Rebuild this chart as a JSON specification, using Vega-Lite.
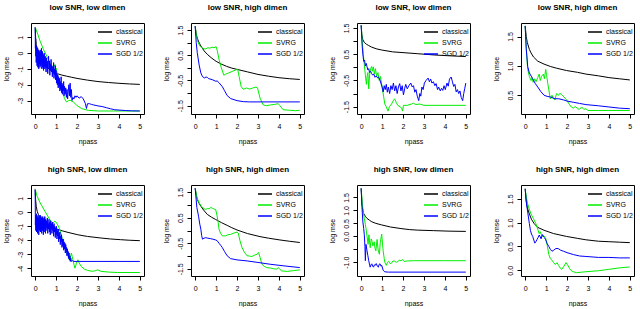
{
"$schema": "https://vega.github.io/schema/vega-lite/v6.json",
"padding": {"left": 1, "top": 3, "right": 0, "bottom": 0},
"background": "white",
"config": {
 "font": "Liberation Sans",
 "view": {"stroke": "#000000", "strokeWidth": 1},
 "axis": {"domain": false, "grid": false, "tickSize": 4, "tickColor": "#000", "tickWidth": 1, "labelFontSize": 7, "labelColor": "#000", "titleFontSize": 7, "titleFontWeight": "normal", "titleColor": "#000", "labelPadding": 4, "labelFlush": false, "labelOverlap": false},
 "axisX": {"titlePadding": 8},
 "axisY": {"labelAngle": 270, "labelAlign": "center", "labelBaseline": "bottom", "titlePadding": 7},
 "title": {"fontSize": 8, "fontWeight": "bold", "offset": 11, "frame": "group", "color": "#000"},
 "legend": {"orient": "top-right", "offset": 1, "labelFontSize": 7, "labelColor": "#000", "symbolType": "stroke", "symbolSize": 196, "symbolStrokeWidth": 1.5, "rowPadding": -2.5, "labelOffset": 3, "padding": 0}
},
"spacing": 20,
"resolve": {"scale": {"color": "independent"}, "legend": {"color": "independent"}},
"datasets": {
"p1": [
{"m":"classical","x":0,"y":1.65},{"m":"classical","x":0.02,"y":1.0},{"m":"classical","x":0.05,"y":0.55},{"m":"classical","x":0.1,"y":0.15},{"m":"classical","x":0.2,"y":-0.25},{"m":"classical","x":0.3,"y":-0.5},{"m":"classical","x":0.4,"y":-0.68},{"m":"classical","x":0.5,"y":-0.82},{"m":"classical","x":0.6,"y":-0.94},{"m":"classical","x":0.7,"y":-1.04},{"m":"classical","x":0.8,"y":-1.13},{"m":"classical","x":0.9,"y":-1.21},{"m":"classical","x":1.0,"y":-1.28},{"m":"classical","x":1.25,"y":-1.38},{"m":"classical","x":1.5,"y":-1.46},{"m":"classical","x":1.75,"y":-1.53},{"m":"classical","x":2.0,"y":-1.6},{"m":"classical","x":2.5,"y":-1.71},{"m":"classical","x":3.0,"y":-1.8},{"m":"classical","x":3.5,"y":-1.86},{"m":"classical","x":4.0,"y":-1.91},{"m":"classical","x":4.5,"y":-1.95},{"m":"classical","x":5.0,"y":-1.98},
{"m":"SVRG","x":0,"y":1.64},{"m":"SVRG","x":0.13,"y":1.17},{"m":"SVRG","x":0.24,"y":0.74},{"m":"SVRG","x":0.4,"y":0.21},{"m":"SVRG","x":0.56,"y":-0.21},{"m":"SVRG","x":0.71,"y":-0.64},{"m":"SVRG","x":0.87,"y":-0.96},{"m":"SVRG","x":0.9,"y":-0.85},{"m":"SVRG","x":0.95,"y":-0.72},{"m":"SVRG","x":0.98,"y":-1.0},{"m":"SVRG","x":1.0,"y":-0.95},{"m":"SVRG","x":1.03,"y":-1.15},{"m":"SVRG","x":1.1,"y":-1.6},{"m":"SVRG","x":1.27,"y":-2.23},{"m":"SVRG","x":1.4,"y":-2.87},{"m":"SVRG","x":1.5,"y":-3.09},{"m":"SVRG","x":1.6,"y":-3.0},{"m":"SVRG","x":1.67,"y":-2.98},{"m":"SVRG","x":1.75,"y":-3.05},{"m":"SVRG","x":1.83,"y":-3.09},{"m":"SVRG","x":1.98,"y":-3.3},{"m":"SVRG","x":2.22,"y":-3.51},{"m":"SVRG","x":2.54,"y":-3.62},{"m":"SVRG","x":3.02,"y":-3.66},{"m":"SVRG","x":4.0,"y":-3.66},{"m":"SVRG","x":5.0,"y":-3.66},
{"m":"SGD 1/2","x":0,"y":1.6},{"m":"SGD 1/2","x":0.01,"y":0.3},{"m":"SGD 1/2","x":0.02,"y":0.9},{"m":"SGD 1/2","x":0.03,"y":-0.2},{"m":"SGD 1/2","x":0.04,"y":0.5},{"m":"SGD 1/2","x":0.05,"y":-0.6},{"m":"SGD 1/2","x":0.06,"y":0.2},{"m":"SGD 1/2","x":0.07,"y":-0.3},{"m":"SGD 1/2","x":0.08,"y":0.4},{"m":"SGD 1/2","x":0.09,"y":-0.8},{"m":"SGD 1/2","x":0.10,"y":0.1},{"m":"SGD 1/2","x":0.11,"y":-0.4},{"m":"SGD 1/2","x":0.12,"y":0.3},{"m":"SGD 1/2","x":0.13,"y":-0.9},{"m":"SGD 1/2","x":0.14,"y":0.0},{"m":"SGD 1/2","x":0.15,"y":-0.5},{"m":"SGD 1/2","x":0.16,"y":0.2},{"m":"SGD 1/2","x":0.17,"y":-1.0},{"m":"SGD 1/2","x":0.18,"y":-0.1},{"m":"SGD 1/2","x":0.19,"y":-0.6},{"m":"SGD 1/2","x":0.20,"y":0.1},{"m":"SGD 1/2","x":0.21,"y":-0.7},{"m":"SGD 1/2","x":0.22,"y":-0.2},{"m":"SGD 1/2","x":0.23,"y":-0.9},{"m":"SGD 1/2","x":0.24,"y":0.2},{"m":"SGD 1/2","x":0.25,"y":-0.5},{"m":"SGD 1/2","x":0.26,"y":-0.1},{"m":"SGD 1/2","x":0.27,"y":-0.8},{"m":"SGD 1/2","x":0.28,"y":0.0},{"m":"SGD 1/2","x":0.29,"y":-0.6},{"m":"SGD 1/2","x":0.30,"y":0.3},{"m":"SGD 1/2","x":0.31,"y":-0.4},{"m":"SGD 1/2","x":0.32,"y":-1.0},{"m":"SGD 1/2","x":0.33,"y":-0.2},{"m":"SGD 1/2","x":0.34,"y":-0.7},{"m":"SGD 1/2","x":0.35,"y":0.1},{"m":"SGD 1/2","x":0.36,"y":-0.9},{"m":"SGD 1/2","x":0.37,"y":-0.3},{"m":"SGD 1/2","x":0.38,"y":-0.6},{"m":"SGD 1/2","x":0.39,"y":-0.1},{"m":"SGD 1/2","x":0.40,"y":-1.1},{"m":"SGD 1/2","x":0.41,"y":-0.4},{"m":"SGD 1/2","x":0.42,"y":-0.8},{"m":"SGD 1/2","x":0.43,"y":0.0},{"m":"SGD 1/2","x":0.44,"y":-0.7},{"m":"SGD 1/2","x":0.45,"y":-0.3},{"m":"SGD 1/2","x":0.46,"y":-1.0},{"m":"SGD 1/2","x":0.47,"y":-0.5},{"m":"SGD 1/2","x":0.48,"y":-0.2},{"m":"SGD 1/2","x":0.49,"y":-0.9},{"m":"SGD 1/2","x":0.50,"y":-0.4},{"m":"SGD 1/2","x":0.52,"y":-1.2},{"m":"SGD 1/2","x":0.54,"y":-0.3},{"m":"SGD 1/2","x":0.56,"y":-0.9},{"m":"SGD 1/2","x":0.58,"y":-0.5},{"m":"SGD 1/2","x":0.60,"y":-1.3},{"m":"SGD 1/2","x":0.62,"y":-0.6},{"m":"SGD 1/2","x":0.64,"y":-0.2},{"m":"SGD 1/2","x":0.66,"y":-1.0},{"m":"SGD 1/2","x":0.68,"y":-0.5},{"m":"SGD 1/2","x":0.70,"y":-1.4},{"m":"SGD 1/2","x":0.72,"y":-0.7},{"m":"SGD 1/2","x":0.74,"y":-1.1},{"m":"SGD 1/2","x":0.76,"y":-0.4},{"m":"SGD 1/2","x":0.78,"y":-1.2},{"m":"SGD 1/2","x":0.80,"y":-0.8},{"m":"SGD 1/2","x":0.82,"y":-1.5},{"m":"SGD 1/2","x":0.84,"y":-0.9},{"m":"SGD 1/2","x":0.86,"y":-1.3},{"m":"SGD 1/2","x":0.88,"y":-0.6},{"m":"SGD 1/2","x":0.90,"y":-1.6},{"m":"SGD 1/2","x":0.92,"y":-1.0},{"m":"SGD 1/2","x":0.94,"y":-1.4},{"m":"SGD 1/2","x":0.96,"y":-0.8},{"m":"SGD 1/2","x":0.98,"y":-1.7},{"m":"SGD 1/2","x":1.00,"y":-1.1},{"m":"SGD 1/2","x":1.02,"y":-1.9},{"m":"SGD 1/2","x":1.04,"y":-1.3},{"m":"SGD 1/2","x":1.06,"y":-2.0},{"m":"SGD 1/2","x":1.08,"y":-1.4},{"m":"SGD 1/2","x":1.10,"y":-2.2},{"m":"SGD 1/2","x":1.12,"y":-1.5},{"m":"SGD 1/2","x":1.14,"y":-2.1},{"m":"SGD 1/2","x":1.16,"y":-1.6},{"m":"SGD 1/2","x":1.18,"y":-2.4},{"m":"SGD 1/2","x":1.20,"y":-1.8},{"m":"SGD 1/2","x":1.22,"y":-2.3},{"m":"SGD 1/2","x":1.24,"y":-1.5},{"m":"SGD 1/2","x":1.26,"y":-2.5},{"m":"SGD 1/2","x":1.28,"y":-1.9},{"m":"SGD 1/2","x":1.30,"y":-2.6},{"m":"SGD 1/2","x":1.32,"y":-2.0},{"m":"SGD 1/2","x":1.34,"y":-2.4},{"m":"SGD 1/2","x":1.36,"y":-1.8},{"m":"SGD 1/2","x":1.38,"y":-2.7},{"m":"SGD 1/2","x":1.40,"y":-2.1},{"m":"SGD 1/2","x":1.43,"y":-2.6},{"m":"SGD 1/2","x":1.46,"y":-2.2},{"m":"SGD 1/2","x":1.49,"y":-2.8},{"m":"SGD 1/2","x":1.52,"y":-2.3},{"m":"SGD 1/2","x":1.55,"y":-2.9},{"m":"SGD 1/2","x":1.58,"y":-2.4},{"m":"SGD 1/2","x":1.61,"y":-2.0},{"m":"SGD 1/2","x":1.64,"y":-2.7},{"m":"SGD 1/2","x":1.67,"y":-1.9},{"m":"SGD 1/2","x":1.70,"y":-2.8},{"m":"SGD 1/2","x":1.73,"y":-2.3},{"m":"SGD 1/2","x":1.76,"y":-3.0},{"m":"SGD 1/2","x":1.80,"y":-2.8},{"m":"SGD 1/2","x":1.85,"y":-2.9},{"m":"SGD 1/2","x":1.90,"y":-2.7},{"m":"SGD 1/2","x":1.95,"y":-2.8},{"m":"SGD 1/2","x":2.0,"y":-2.7},{"m":"SGD 1/2","x":2.1,"y":-2.85},{"m":"SGD 1/2","x":2.2,"y":-2.75},{"m":"SGD 1/2","x":2.3,"y":-2.9},{"m":"SGD 1/2","x":2.4,"y":-3.2},{"m":"SGD 1/2","x":2.45,"y":-3.5},{"m":"SGD 1/2","x":2.5,"y":-3.2},{"m":"SGD 1/2","x":2.6,"y":-3.2},{"m":"SGD 1/2","x":2.7,"y":-3.25},{"m":"SGD 1/2","x":2.8,"y":-3.28},{"m":"SGD 1/2","x":3.0,"y":-3.34},{"m":"SGD 1/2","x":3.2,"y":-3.38},{"m":"SGD 1/2","x":3.4,"y":-3.45},{"m":"SGD 1/2","x":3.6,"y":-3.52},{"m":"SGD 1/2","x":3.8,"y":-3.58},{"m":"SGD 1/2","x":4.0,"y":-3.6},{"m":"SGD 1/2","x":4.3,"y":-3.63},{"m":"SGD 1/2","x":4.6,"y":-3.65},{"m":"SGD 1/2","x":5.0,"y":-3.66}
],
"p2": [
{"m":"classical","x":0,"y":1.65},{"m":"classical","x":0.05,"y":1.35},{"m":"classical","x":0.1,"y":1.18},{"m":"classical","x":0.2,"y":0.97},{"m":"classical","x":0.3,"y":0.83},{"m":"classical","x":0.43,"y":0.67},{"m":"classical","x":0.6,"y":0.52},{"m":"classical","x":0.8,"y":0.38},{"m":"classical","x":1.0,"y":0.26},{"m":"classical","x":1.25,"y":0.15},{"m":"classical","x":1.5,"y":0.06},{"m":"classical","x":1.75,"y":-0.01},{"m":"classical","x":2.0,"y":-0.06},{"m":"classical","x":2.5,"y":-0.16},{"m":"classical","x":3.0,"y":-0.26},{"m":"classical","x":3.5,"y":-0.33},{"m":"classical","x":4.0,"y":-0.39},{"m":"classical","x":4.5,"y":-0.43},{"m":"classical","x":5.0,"y":-0.46},
{"m":"SVRG","x":0,"y":1.65},{"m":"SVRG","x":0.05,"y":1.3},{"m":"SVRG","x":0.1,"y":1.1},{"m":"SVRG","x":0.17,"y":0.95},{"m":"SVRG","x":0.24,"y":0.85},{"m":"SVRG","x":0.35,"y":0.78},{"m":"SVRG","x":0.43,"y":0.76},{"m":"SVRG","x":0.5,"y":0.75},{"m":"SVRG","x":0.6,"y":0.8},{"m":"SVRG","x":0.7,"y":0.78},{"m":"SVRG","x":0.8,"y":0.82},{"m":"SVRG","x":0.9,"y":0.8},{"m":"SVRG","x":1.0,"y":0.84},{"m":"SVRG","x":1.05,"y":0.7},{"m":"SVRG","x":1.15,"y":0.3},{"m":"SVRG","x":1.25,"y":0.0},{"m":"SVRG","x":1.37,"y":-0.29},{"m":"SVRG","x":1.45,"y":-0.25},{"m":"SVRG","x":1.6,"y":-0.2},{"m":"SVRG","x":1.8,"y":-0.13},{"m":"SVRG","x":1.95,"y":-0.08},{"m":"SVRG","x":2.03,"y":-0.05},{"m":"SVRG","x":2.1,"y":-0.35},{"m":"SVRG","x":2.2,"y":-0.75},{"m":"SVRG","x":2.3,"y":-0.85},{"m":"SVRG","x":2.45,"y":-0.8},{"m":"SVRG","x":2.6,"y":-0.84},{"m":"SVRG","x":2.75,"y":-0.8},{"m":"SVRG","x":2.9,"y":-0.76},{"m":"SVRG","x":2.98,"y":-0.8},{"m":"SVRG","x":3.1,"y":-1.2},{"m":"SVRG","x":3.25,"y":-1.47},{"m":"SVRG","x":3.4,"y":-1.5},{"m":"SVRG","x":3.6,"y":-1.47},{"m":"SVRG","x":3.8,"y":-1.45},{"m":"SVRG","x":3.97,"y":-1.42},{"m":"SVRG","x":4.05,"y":-1.5},{"m":"SVRG","x":4.2,"y":-1.66},{"m":"SVRG","x":4.5,"y":-1.68},{"m":"SVRG","x":4.8,"y":-1.7},{"m":"SVRG","x":5.0,"y":-1.68},
{"m":"SGD 1/2","x":0,"y":1.65},{"m":"SGD 1/2","x":0.05,"y":1.0},{"m":"SGD 1/2","x":0.1,"y":0.6},{"m":"SGD 1/2","x":0.19,"y":0.11},{"m":"SGD 1/2","x":0.27,"y":-0.2},{"m":"SGD 1/2","x":0.35,"y":-0.35},{"m":"SGD 1/2","x":0.45,"y":-0.4},{"m":"SGD 1/2","x":0.52,"y":-0.36},{"m":"SGD 1/2","x":0.58,"y":-0.38},{"m":"SGD 1/2","x":0.65,"y":-0.43},{"m":"SGD 1/2","x":0.75,"y":-0.45},{"m":"SGD 1/2","x":0.85,"y":-0.48},{"m":"SGD 1/2","x":0.98,"y":-0.53},{"m":"SGD 1/2","x":1.05,"y":-0.52},{"m":"SGD 1/2","x":1.15,"y":-0.6},{"m":"SGD 1/2","x":1.3,"y":-0.75},{"m":"SGD 1/2","x":1.4,"y":-0.9},{"m":"SGD 1/2","x":1.53,"y":-1.1},{"m":"SGD 1/2","x":1.7,"y":-1.22},{"m":"SGD 1/2","x":2.0,"y":-1.3},{"m":"SGD 1/2","x":2.3,"y":-1.34},{"m":"SGD 1/2","x":2.6,"y":-1.35},{"m":"SGD 1/2","x":5.0,"y":-1.35}
],
"p3": [
{"m":"classical","x":0,"y":1.6},{"m":"classical","x":0.03,"y":1.25},{"m":"classical","x":0.08,"y":1.05},{"m":"classical","x":0.15,"y":0.95},{"m":"classical","x":0.25,"y":0.88},{"m":"classical","x":0.36,"y":0.83},{"m":"classical","x":0.5,"y":0.77},{"m":"classical","x":0.75,"y":0.7},{"m":"classical","x":0.98,"y":0.66},{"m":"classical","x":1.5,"y":0.59},{"m":"classical","x":2.0,"y":0.56},{"m":"classical","x":2.68,"y":0.52},{"m":"classical","x":3.5,"y":0.47},{"m":"classical","x":4.2,"y":0.44},{"m":"classical","x":5.0,"y":0.41},
{"m":"SVRG","x":0,"y":1.6},{"m":"SVRG","x":0.05,"y":1.0},{"m":"SVRG","x":0.1,"y":0.5},{"m":"SVRG","x":0.15,"y":0.1},{"m":"SVRG","x":0.2,"y":-0.3},{"m":"SVRG","x":0.25,"y":-0.65},{"m":"SVRG","x":0.28,"y":-0.35},{"m":"SVRG","x":0.32,"y":-0.2},{"m":"SVRG","x":0.36,"y":-0.82},{"m":"SVRG","x":0.4,"y":-0.3},{"m":"SVRG","x":0.45,"y":-0.05},{"m":"SVRG","x":0.5,"y":0.03},{"m":"SVRG","x":0.54,"y":-0.15},{"m":"SVRG","x":0.58,"y":0.02},{"m":"SVRG","x":0.63,"y":-0.25},{"m":"SVRG","x":0.68,"y":-0.05},{"m":"SVRG","x":0.74,"y":-0.35},{"m":"SVRG","x":0.8,"y":-0.2},{"m":"SVRG","x":0.86,"y":-0.5},{"m":"SVRG","x":0.92,"y":-0.35},{"m":"SVRG","x":1.0,"y":-0.75},{"m":"SVRG","x":1.07,"y":-1.1},{"m":"SVRG","x":1.13,"y":-1.4},{"m":"SVRG","x":1.2,"y":-1.5},{"m":"SVRG","x":1.28,"y":-1.67},{"m":"SVRG","x":1.35,"y":-1.5},{"m":"SVRG","x":1.45,"y":-1.4},{"m":"SVRG","x":1.55,"y":-1.25},{"m":"SVRG","x":1.6,"y":-1.2},{"m":"SVRG","x":1.68,"y":-1.35},{"m":"SVRG","x":1.75,"y":-1.45},{"m":"SVRG","x":1.85,"y":-1.5},{"m":"SVRG","x":1.93,"y":-1.55},{"m":"SVRG","x":1.98,"y":-1.67},{"m":"SVRG","x":2.02,"y":-1.45},{"m":"SVRG","x":2.2,"y":-1.45},{"m":"SVRG","x":2.4,"y":-1.4},{"m":"SVRG","x":2.5,"y":-1.37},{"m":"SVRG","x":2.6,"y":-1.42},{"m":"SVRG","x":2.8,"y":-1.4},{"m":"SVRG","x":3.0,"y":-1.45},{"m":"SVRG","x":5.0,"y":-1.45},
{"m":"SGD 1/2","x":0,"y":1.6},{"m":"SGD 1/2","x":0.04,"y":0.9},{"m":"SGD 1/2","x":0.08,"y":0.5},{"m":"SGD 1/2","x":0.12,"y":0.23},{"m":"SGD 1/2","x":0.16,"y":0.28},{"m":"SGD 1/2","x":0.2,"y":0.05},{"m":"SGD 1/2","x":0.24,"y":0.15},{"m":"SGD 1/2","x":0.28,"y":0.02},{"m":"SGD 1/2","x":0.32,"y":-0.1},{"m":"SGD 1/2","x":0.36,"y":-0.05},{"m":"SGD 1/2","x":0.4,"y":-0.2},{"m":"SGD 1/2","x":0.45,"y":-0.15},{"m":"SGD 1/2","x":0.5,"y":-0.24},{"m":"SGD 1/2","x":0.55,"y":-0.3},{"m":"SGD 1/2","x":0.6,"y":-0.25},{"m":"SGD 1/2","x":0.66,"y":-0.38},{"m":"SGD 1/2","x":0.72,"y":-0.33},{"m":"SGD 1/2","x":0.78,"y":-0.4},{"m":"SGD 1/2","x":0.82,"y":-0.37},{"m":"SGD 1/2","x":0.88,"y":-0.45},{"m":"SGD 1/2","x":0.94,"y":-0.6},{"m":"SGD 1/2","x":1.0,"y":-0.75},{"m":"SGD 1/2","x":1.05,"y":-0.94},{"m":"SGD 1/2","x":1.1,"y":-0.7},{"m":"SGD 1/2","x":1.15,"y":-0.85},{"m":"SGD 1/2","x":1.2,"y":-0.65},{"m":"SGD 1/2","x":1.25,"y":-0.95},{"m":"SGD 1/2","x":1.3,"y":-0.75},{"m":"SGD 1/2","x":1.36,"y":-1.0},{"m":"SGD 1/2","x":1.42,"y":-0.7},{"m":"SGD 1/2","x":1.48,"y":-0.85},{"m":"SGD 1/2","x":1.54,"y":-0.6},{"m":"SGD 1/2","x":1.6,"y":-0.9},{"m":"SGD 1/2","x":1.66,"y":-0.7},{"m":"SGD 1/2","x":1.72,"y":-1.0},{"m":"SGD 1/2","x":1.78,"y":-0.75},{"m":"SGD 1/2","x":1.84,"y":-0.62},{"m":"SGD 1/2","x":1.9,"y":-0.9},{"m":"SGD 1/2","x":1.96,"y":-0.7},{"m":"SGD 1/2","x":2.02,"y":-1.05},{"m":"SGD 1/2","x":2.08,"y":-0.8},{"m":"SGD 1/2","x":2.13,"y":-0.65},{"m":"SGD 1/2","x":2.2,"y":-0.82},{"m":"SGD 1/2","x":2.28,"y":-0.7},{"m":"SGD 1/2","x":2.37,"y":-0.6},{"m":"SGD 1/2","x":2.44,"y":-0.75},{"m":"SGD 1/2","x":2.5,"y":-0.7},{"m":"SGD 1/2","x":2.56,"y":-0.95},{"m":"SGD 1/2","x":2.62,"y":-0.85},{"m":"SGD 1/2","x":2.68,"y":-1.1},{"m":"SGD 1/2","x":2.75,"y":-1.27},{"m":"SGD 1/2","x":2.8,"y":-1.0},{"m":"SGD 1/2","x":2.85,"y":-1.1},{"m":"SGD 1/2","x":2.9,"y":-0.75},{"m":"SGD 1/2","x":2.96,"y":-0.85},{"m":"SGD 1/2","x":3.02,"y":-0.6},{"m":"SGD 1/2","x":3.1,"y":-0.5},{"m":"SGD 1/2","x":3.2,"y":-0.41},{"m":"SGD 1/2","x":3.26,"y":-0.55},{"m":"SGD 1/2","x":3.32,"y":-0.45},{"m":"SGD 1/2","x":3.38,"y":-0.6},{"m":"SGD 1/2","x":3.45,"y":-0.55},{"m":"SGD 1/2","x":3.52,"y":-0.7},{"m":"SGD 1/2","x":3.58,"y":-0.62},{"m":"SGD 1/2","x":3.65,"y":-0.85},{"m":"SGD 1/2","x":3.7,"y":-0.75},{"m":"SGD 1/2","x":3.78,"y":-0.9},{"m":"SGD 1/2","x":3.84,"y":-0.8},{"m":"SGD 1/2","x":3.9,"y":-0.88},{"m":"SGD 1/2","x":3.96,"y":-0.7},{"m":"SGD 1/2","x":4.02,"y":-0.85},{"m":"SGD 1/2","x":4.1,"y":-0.6},{"m":"SGD 1/2","x":4.16,"y":-0.72},{"m":"SGD 1/2","x":4.22,"y":-0.45},{"m":"SGD 1/2","x":4.3,"y":-0.37},{"m":"SGD 1/2","x":4.36,"y":-0.55},{"m":"SGD 1/2","x":4.42,"y":-0.73},{"m":"SGD 1/2","x":4.48,"y":-0.65},{"m":"SGD 1/2","x":4.54,"y":-0.94},{"m":"SGD 1/2","x":4.6,"y":-0.85},{"m":"SGD 1/2","x":4.66,"y":-1.0},{"m":"SGD 1/2","x":4.72,"y":-0.9},{"m":"SGD 1/2","x":4.78,"y":-1.15},{"m":"SGD 1/2","x":4.85,"y":-1.27},{"m":"SGD 1/2","x":4.9,"y":-1.0},{"m":"SGD 1/2","x":4.95,"y":-0.8},{"m":"SGD 1/2","x":5.0,"y":-0.6}
],
"p4": [
{"m":"classical","x":0,"y":1.68},{"m":"classical","x":0.05,"y":1.5},{"m":"classical","x":0.1,"y":1.4},{"m":"classical","x":0.2,"y":1.28},{"m":"classical","x":0.28,"y":1.22},{"m":"classical","x":0.4,"y":1.15},{"m":"classical","x":0.6,"y":1.08},{"m":"classical","x":0.9,"y":1.03},{"m":"classical","x":1.2,"y":0.99},{"m":"classical","x":1.5,"y":0.96},{"m":"classical","x":1.98,"y":0.92},{"m":"classical","x":2.5,"y":0.89},{"m":"classical","x":2.9,"y":0.86},{"m":"classical","x":3.5,"y":0.83},{"m":"classical","x":4.0,"y":0.8},{"m":"classical","x":4.5,"y":0.78},{"m":"classical","x":5.0,"y":0.76},
{"m":"SVRG","x":0,"y":1.68},{"m":"SVRG","x":0.05,"y":1.3},{"m":"SVRG","x":0.12,"y":0.94},{"m":"SVRG","x":0.2,"y":0.82},{"m":"SVRG","x":0.28,"y":0.75},{"m":"SVRG","x":0.33,"y":0.8},{"m":"SVRG","x":0.38,"y":0.72},{"m":"SVRG","x":0.45,"y":0.78},{"m":"SVRG","x":0.52,"y":0.73},{"m":"SVRG","x":0.6,"y":0.8},{"m":"SVRG","x":0.67,"y":0.86},{"m":"SVRG","x":0.72,"y":0.75},{"m":"SVRG","x":0.78,"y":0.82},{"m":"SVRG","x":0.87,"y":0.86},{"m":"SVRG","x":0.92,"y":0.78},{"m":"SVRG","x":0.98,"y":0.94},{"m":"SVRG","x":1.02,"y":0.85},{"m":"SVRG","x":1.08,"y":0.7},{"m":"SVRG","x":1.2,"y":0.44},{"m":"SVRG","x":1.28,"y":0.5},{"m":"SVRG","x":1.35,"y":0.44},{"m":"SVRG","x":1.42,"y":0.42},{"m":"SVRG","x":1.5,"y":0.53},{"m":"SVRG","x":1.6,"y":0.5},{"m":"SVRG","x":1.65,"y":0.53},{"m":"SVRG","x":1.72,"y":0.52},{"m":"SVRG","x":1.78,"y":0.5},{"m":"SVRG","x":1.85,"y":0.47},{"m":"SVRG","x":1.98,"y":0.42},{"m":"SVRG","x":2.1,"y":0.35},{"m":"SVRG","x":2.2,"y":0.3},{"m":"SVRG","x":2.3,"y":0.28},{"m":"SVRG","x":2.4,"y":0.31},{"m":"SVRG","x":2.5,"y":0.27},{"m":"SVRG","x":2.6,"y":0.26},{"m":"SVRG","x":2.7,"y":0.3},{"m":"SVRG","x":2.8,"y":0.26},{"m":"SVRG","x":2.9,"y":0.27},{"m":"SVRG","x":3.0,"y":0.24},{"m":"SVRG","x":3.5,"y":0.24},{"m":"SVRG","x":4.0,"y":0.24},{"m":"SVRG","x":5.0,"y":0.24},
{"m":"SGD 1/2","x":0,"y":1.68},{"m":"SGD 1/2","x":0.05,"y":1.3},{"m":"SGD 1/2","x":0.12,"y":0.99},{"m":"SGD 1/2","x":0.2,"y":0.88},{"m":"SGD 1/2","x":0.36,"y":0.78},{"m":"SGD 1/2","x":0.48,"y":0.7},{"m":"SGD 1/2","x":0.6,"y":0.64},{"m":"SGD 1/2","x":0.75,"y":0.56},{"m":"SGD 1/2","x":0.9,"y":0.5},{"m":"SGD 1/2","x":1.05,"y":0.48},{"m":"SGD 1/2","x":1.2,"y":0.47},{"m":"SGD 1/2","x":1.44,"y":0.44},{"m":"SGD 1/2","x":1.6,"y":0.44},{"m":"SGD 1/2","x":1.83,"y":0.42},{"m":"SGD 1/2","x":2.0,"y":0.4},{"m":"SGD 1/2","x":2.3,"y":0.38},{"m":"SGD 1/2","x":2.6,"y":0.36},{"m":"SGD 1/2","x":2.9,"y":0.34},{"m":"SGD 1/2","x":3.5,"y":0.32},{"m":"SGD 1/2","x":4.0,"y":0.3},{"m":"SGD 1/2","x":4.5,"y":0.28},{"m":"SGD 1/2","x":5.0,"y":0.27}
],
"p5": [
{"m":"classical","x":0,"y":1.67},{"m":"classical","x":0.02,"y":0.9},{"m":"classical","x":0.05,"y":0.43},{"m":"classical","x":0.1,"y":0.05},{"m":"classical","x":0.16,"y":-0.17},{"m":"classical","x":0.31,"y":-0.48},{"m":"classical","x":0.47,"y":-0.76},{"m":"classical","x":0.71,"y":-1.0},{"m":"classical","x":1.02,"y":-1.19},{"m":"classical","x":1.3,"y":-1.32},{"m":"classical","x":1.57,"y":-1.43},{"m":"classical","x":2.04,"y":-1.6},{"m":"classical","x":2.5,"y":-1.72},{"m":"classical","x":3.14,"y":-1.83},{"m":"classical","x":3.6,"y":-1.9},{"m":"classical","x":4.08,"y":-1.95},{"m":"classical","x":4.5,"y":-1.99},{"m":"classical","x":5.0,"y":-2.02},
{"m":"SVRG","x":0,"y":1.67},{"m":"SVRG","x":0.08,"y":1.2},{"m":"SVRG","x":0.24,"y":0.67},{"m":"SVRG","x":0.47,"y":0.07},{"m":"SVRG","x":0.7,"y":-0.52},{"m":"SVRG","x":0.8,"y":-0.72},{"m":"SVRG","x":0.86,"y":-0.76},{"m":"SVRG","x":0.9,"y":-0.68},{"m":"SVRG","x":0.94,"y":-0.64},{"m":"SVRG","x":1.0,"y":-0.7},{"m":"SVRG","x":1.08,"y":-0.9},{"m":"SVRG","x":1.18,"y":-1.24},{"m":"SVRG","x":1.26,"y":-1.7},{"m":"SVRG","x":1.34,"y":-2.19},{"m":"SVRG","x":1.42,"y":-2.6},{"m":"SVRG","x":1.5,"y":-2.9},{"m":"SVRG","x":1.58,"y":-3.2},{"m":"SVRG","x":1.65,"y":-3.43},{"m":"SVRG","x":1.7,"y":-3.1},{"m":"SVRG","x":1.73,"y":-2.9},{"m":"SVRG","x":1.77,"y":-3.15},{"m":"SVRG","x":1.8,"y":-3.38},{"m":"SVRG","x":1.85,"y":-3.7},{"m":"SVRG","x":1.9,"y":-3.98},{"m":"SVRG","x":1.94,"y":-3.8},{"m":"SVRG","x":1.97,"y":-3.62},{"m":"SVRG","x":2.04,"y":-3.38},{"m":"SVRG","x":2.1,"y":-3.6},{"m":"SVRG","x":2.2,"y":-3.86},{"m":"SVRG","x":2.35,"y":-4.05},{"m":"SVRG","x":2.5,"y":-4.14},{"m":"SVRG","x":2.7,"y":-4.2},{"m":"SVRG","x":2.85,"y":-4.18},{"m":"SVRG","x":2.98,"y":-4.1},{"m":"SVRG","x":3.15,"y":-4.21},{"m":"SVRG","x":3.5,"y":-4.26},{"m":"SVRG","x":3.93,"y":-4.29},{"m":"SVRG","x":5.0,"y":-4.29},
{"m":"SGD 1/2","x":0,"y":1.6},{"m":"SGD 1/2","x":0.01,"y":-0.9},{"m":"SGD 1/2","x":0.02,"y":-0.2},{"m":"SGD 1/2","x":0.03,"y":-1.3},{"m":"SGD 1/2","x":0.04,"y":-0.4},{"m":"SGD 1/2","x":0.05,"y":-1.0},{"m":"SGD 1/2","x":0.06,"y":-0.1},{"m":"SGD 1/2","x":0.07,"y":-1.4},{"m":"SGD 1/2","x":0.08,"y":-0.5},{"m":"SGD 1/2","x":0.09,"y":-1.1},{"m":"SGD 1/2","x":0.10,"y":-0.3},{"m":"SGD 1/2","x":0.11,"y":-1.5},{"m":"SGD 1/2","x":0.12,"y":-0.6},{"m":"SGD 1/2","x":0.13,"y":-1.2},{"m":"SGD 1/2","x":0.14,"y":-0.2},{"m":"SGD 1/2","x":0.15,"y":-0.9},{"m":"SGD 1/2","x":0.16,"y":-0.4},{"m":"SGD 1/2","x":0.17,"y":-1.6},{"m":"SGD 1/2","x":0.18,"y":-0.7},{"m":"SGD 1/2","x":0.19,"y":-1.0},{"m":"SGD 1/2","x":0.20,"y":-0.3},{"m":"SGD 1/2","x":0.21,"y":-1.3},{"m":"SGD 1/2","x":0.22,"y":-0.5},{"m":"SGD 1/2","x":0.23,"y":-1.1},{"m":"SGD 1/2","x":0.24,"y":-0.2},{"m":"SGD 1/2","x":0.25,"y":-1.4},{"m":"SGD 1/2","x":0.26,"y":-0.6},{"m":"SGD 1/2","x":0.27,"y":-0.9},{"m":"SGD 1/2","x":0.28,"y":-0.3},{"m":"SGD 1/2","x":0.29,"y":-1.2},{"m":"SGD 1/2","x":0.30,"y":-0.5},{"m":"SGD 1/2","x":0.31,"y":-1.5},{"m":"SGD 1/2","x":0.32,"y":-0.4},{"m":"SGD 1/2","x":0.33,"y":-1.0},{"m":"SGD 1/2","x":0.34,"y":-0.6},{"m":"SGD 1/2","x":0.35,"y":-1.3},{"m":"SGD 1/2","x":0.36,"y":-0.3},{"m":"SGD 1/2","x":0.37,"y":-0.9},{"m":"SGD 1/2","x":0.38,"y":-0.5},{"m":"SGD 1/2","x":0.39,"y":-1.6},{"m":"SGD 1/2","x":0.40,"y":-0.7},{"m":"SGD 1/2","x":0.41,"y":-1.1},{"m":"SGD 1/2","x":0.42,"y":-0.4},{"m":"SGD 1/2","x":0.43,"y":-1.4},{"m":"SGD 1/2","x":0.44,"y":-0.6},{"m":"SGD 1/2","x":0.45,"y":-1.0},{"m":"SGD 1/2","x":0.46,"y":-0.3},{"m":"SGD 1/2","x":0.47,"y":-1.2},{"m":"SGD 1/2","x":0.48,"y":-0.7},{"m":"SGD 1/2","x":0.49,"y":-1.5},{"m":"SGD 1/2","x":0.50,"y":-0.5},{"m":"SGD 1/2","x":0.52,"y":-1.3},{"m":"SGD 1/2","x":0.54,"y":-0.6},{"m":"SGD 1/2","x":0.56,"y":-1.1},{"m":"SGD 1/2","x":0.58,"y":-0.4},{"m":"SGD 1/2","x":0.60,"y":-1.5},{"m":"SGD 1/2","x":0.62,"y":-0.8},{"m":"SGD 1/2","x":0.64,"y":-1.2},{"m":"SGD 1/2","x":0.66,"y":-0.5},{"m":"SGD 1/2","x":0.68,"y":-1.4},{"m":"SGD 1/2","x":0.70,"y":-0.7},{"m":"SGD 1/2","x":0.72,"y":-1.6},{"m":"SGD 1/2","x":0.74,"y":-0.6},{"m":"SGD 1/2","x":0.76,"y":-1.2},{"m":"SGD 1/2","x":0.78,"y":-0.8},{"m":"SGD 1/2","x":0.80,"y":-1.5},{"m":"SGD 1/2","x":0.82,"y":-0.7},{"m":"SGD 1/2","x":0.84,"y":-1.3},{"m":"SGD 1/2","x":0.86,"y":-0.9},{"m":"SGD 1/2","x":0.88,"y":-1.7},{"m":"SGD 1/2","x":0.90,"y":-0.8},{"m":"SGD 1/2","x":0.92,"y":-1.4},{"m":"SGD 1/2","x":0.94,"y":-1.0},{"m":"SGD 1/2","x":0.96,"y":-1.8},{"m":"SGD 1/2","x":0.98,"y":-1.1},{"m":"SGD 1/2","x":1.00,"y":-1.6},{"m":"SGD 1/2","x":1.02,"y":-1.0},{"m":"SGD 1/2","x":1.04,"y":-1.9},{"m":"SGD 1/2","x":1.06,"y":-1.3},{"m":"SGD 1/2","x":1.08,"y":-1.7},{"m":"SGD 1/2","x":1.10,"y":-1.2},{"m":"SGD 1/2","x":1.12,"y":-2.1},{"m":"SGD 1/2","x":1.14,"y":-1.5},{"m":"SGD 1/2","x":1.16,"y":-1.9},{"m":"SGD 1/2","x":1.18,"y":-1.4},{"m":"SGD 1/2","x":1.20,"y":-2.3},{"m":"SGD 1/2","x":1.22,"y":-1.7},{"m":"SGD 1/2","x":1.24,"y":-2.1},{"m":"SGD 1/2","x":1.26,"y":-1.6},{"m":"SGD 1/2","x":1.28,"y":-2.5},{"m":"SGD 1/2","x":1.30,"y":-1.9},{"m":"SGD 1/2","x":1.32,"y":-2.4},{"m":"SGD 1/2","x":1.34,"y":-1.9},{"m":"SGD 1/2","x":1.36,"y":-2.7},{"m":"SGD 1/2","x":1.38,"y":-2.1},{"m":"SGD 1/2","x":1.40,"y":-2.6},{"m":"SGD 1/2","x":1.42,"y":-2.2},{"m":"SGD 1/2","x":1.44,"y":-2.9},{"m":"SGD 1/2","x":1.46,"y":-2.3},{"m":"SGD 1/2","x":1.48,"y":-2.8},{"m":"SGD 1/2","x":1.50,"y":-2.5},{"m":"SGD 1/2","x":1.52,"y":-3.1},{"m":"SGD 1/2","x":1.54,"y":-2.6},{"m":"SGD 1/2","x":1.56,"y":-3.0},{"m":"SGD 1/2","x":1.58,"y":-2.8},{"m":"SGD 1/2","x":1.60,"y":-3.3},{"m":"SGD 1/2","x":1.62,"y":-2.9},{"m":"SGD 1/2","x":1.64,"y":-3.4},{"m":"SGD 1/2","x":1.66,"y":-3.1},{"m":"SGD 1/2","x":1.68,"y":-3.5},{"m":"SGD 1/2","x":1.70,"y":-3.25},{"m":"SGD 1/2","x":1.73,"y":-3.5},{"m":"SGD 1/2","x":1.78,"y":-3.45},{"m":"SGD 1/2","x":1.85,"y":-3.5},{"m":"SGD 1/2","x":2.0,"y":-3.5},{"m":"SGD 1/2","x":3.0,"y":-3.5},{"m":"SGD 1/2","x":4.0,"y":-3.5},{"m":"SGD 1/2","x":5.0,"y":-3.5}
],
"p6": [
{"m":"classical","x":0,"y":1.65},{"m":"classical","x":0.05,"y":1.4},{"m":"classical","x":0.1,"y":1.22},{"m":"classical","x":0.18,"y":1.07},{"m":"classical","x":0.27,"y":0.95},{"m":"classical","x":0.4,"y":0.8},{"m":"classical","x":0.58,"y":0.63},{"m":"classical","x":0.78,"y":0.52},{"m":"classical","x":0.98,"y":0.43},{"m":"classical","x":1.25,"y":0.31},{"m":"classical","x":1.53,"y":0.2},{"m":"classical","x":1.75,"y":0.11},{"m":"classical","x":2.0,"y":0.02},{"m":"classical","x":2.5,"y":-0.12},{"m":"classical","x":3.1,"y":-0.24},{"m":"classical","x":3.5,"y":-0.3},{"m":"classical","x":4.05,"y":-0.37},{"m":"classical","x":4.5,"y":-0.42},{"m":"classical","x":5.0,"y":-0.47},
{"m":"SVRG","x":0,"y":1.65},{"m":"SVRG","x":0.08,"y":1.3},{"m":"SVRG","x":0.19,"y":1.08},{"m":"SVRG","x":0.35,"y":0.89},{"m":"SVRG","x":0.5,"y":0.82},{"m":"SVRG","x":0.58,"y":0.86},{"m":"SVRG","x":0.66,"y":0.85},{"m":"SVRG","x":0.75,"y":0.9},{"m":"SVRG","x":0.82,"y":0.87},{"m":"SVRG","x":0.9,"y":0.84},{"m":"SVRG","x":0.98,"y":0.82},{"m":"SVRG","x":1.04,"y":0.6},{"m":"SVRG","x":1.1,"y":0.3},{"m":"SVRG","x":1.14,"y":0.05},{"m":"SVRG","x":1.22,"y":-0.12},{"m":"SVRG","x":1.3,"y":-0.21},{"m":"SVRG","x":1.45,"y":-0.21},{"m":"SVRG","x":1.55,"y":-0.17},{"m":"SVRG","x":1.7,"y":-0.15},{"m":"SVRG","x":1.85,"y":-0.1},{"m":"SVRG","x":2.0,"y":-0.06},{"m":"SVRG","x":2.06,"y":-0.1},{"m":"SVRG","x":2.14,"y":-0.4},{"m":"SVRG","x":2.24,"y":-0.67},{"m":"SVRG","x":2.35,"y":-0.85},{"m":"SVRG","x":2.48,"y":-0.99},{"m":"SVRG","x":2.6,"y":-1.0},{"m":"SVRG","x":2.7,"y":-1.02},{"m":"SVRG","x":2.82,"y":-0.97},{"m":"SVRG","x":2.95,"y":-0.93},{"m":"SVRG","x":3.03,"y":-0.86},{"m":"SVRG","x":3.1,"y":-1.05},{"m":"SVRG","x":3.19,"y":-1.32},{"m":"SVRG","x":3.3,"y":-1.4},{"m":"SVRG","x":3.42,"y":-1.45},{"m":"SVRG","x":3.6,"y":-1.47},{"m":"SVRG","x":3.75,"y":-1.5},{"m":"SVRG","x":3.9,"y":-1.51},{"m":"SVRG","x":3.97,"y":-1.45},{"m":"SVRG","x":4.05,"y":-1.52},{"m":"SVRG","x":4.13,"y":-1.58},{"m":"SVRG","x":4.4,"y":-1.6},{"m":"SVRG","x":4.7,"y":-1.57},{"m":"SVRG","x":5.0,"y":-1.54},
{"m":"SGD 1/2","x":0,"y":1.65},{"m":"SGD 1/2","x":0.08,"y":0.9},{"m":"SGD 1/2","x":0.16,"y":0.56},{"m":"SGD 1/2","x":0.22,"y":0.25},{"m":"SGD 1/2","x":0.27,"y":0.05},{"m":"SGD 1/2","x":0.31,"y":-0.2},{"m":"SGD 1/2","x":0.35,"y":-0.34},{"m":"SGD 1/2","x":0.42,"y":-0.3},{"m":"SGD 1/2","x":0.5,"y":-0.28},{"m":"SGD 1/2","x":0.6,"y":-0.3},{"m":"SGD 1/2","x":0.74,"y":-0.32},{"m":"SGD 1/2","x":0.85,"y":-0.34},{"m":"SGD 1/2","x":0.98,"y":-0.37},{"m":"SGD 1/2","x":1.05,"y":-0.4},{"m":"SGD 1/2","x":1.14,"y":-0.5},{"m":"SGD 1/2","x":1.22,"y":-0.58},{"m":"SGD 1/2","x":1.3,"y":-0.67},{"m":"SGD 1/2","x":1.4,"y":-0.82},{"m":"SGD 1/2","x":1.53,"y":-0.99},{"m":"SGD 1/2","x":1.69,"y":-1.1},{"m":"SGD 1/2","x":2.0,"y":-1.15},{"m":"SGD 1/2","x":2.48,"y":-1.19},{"m":"SGD 1/2","x":3.0,"y":-1.25},{"m":"SGD 1/2","x":3.58,"y":-1.32},{"m":"SGD 1/2","x":4.2,"y":-1.38},{"m":"SGD 1/2","x":5.0,"y":-1.45}
],
"p7": [
{"m":"classical","x":0,"y":1.85},{"m":"classical","x":0.03,"y":1.3},{"m":"classical","x":0.07,"y":1.05},{"m":"classical","x":0.12,"y":0.88},{"m":"classical","x":0.2,"y":0.77},{"m":"classical","x":0.28,"y":0.69},{"m":"classical","x":0.4,"y":0.62},{"m":"classical","x":0.51,"y":0.56},{"m":"classical","x":0.7,"y":0.5},{"m":"classical","x":0.98,"y":0.44},{"m":"classical","x":1.4,"y":0.36},{"m":"classical","x":1.9,"y":0.3},{"m":"classical","x":2.3,"y":0.26},{"m":"classical","x":2.68,"y":0.24},{"m":"classical","x":3.45,"y":0.22},{"m":"classical","x":4.2,"y":0.2},{"m":"classical","x":5.0,"y":0.19},
{"m":"SVRG","x":0,"y":1.85},{"m":"SVRG","x":0.05,"y":1.31},{"m":"SVRG","x":0.1,"y":0.95},{"m":"SVRG","x":0.15,"y":0.69},{"m":"SVRG","x":0.2,"y":0.45},{"m":"SVRG","x":0.23,"y":0.31},{"m":"SVRG","x":0.28,"y":0.0},{"m":"SVRG","x":0.33,"y":-0.31},{"m":"SVRG","x":0.37,"y":0.06},{"m":"SVRG","x":0.43,"y":-0.44},{"m":"SVRG","x":0.48,"y":-0.1},{"m":"SVRG","x":0.51,"y":-0.16},{"m":"SVRG","x":0.56,"y":-0.37},{"m":"SVRG","x":0.62,"y":-0.21},{"m":"SVRG","x":0.66,"y":-0.45},{"m":"SVRG","x":0.7,"y":-0.56},{"m":"SVRG","x":0.76,"y":-0.12},{"m":"SVRG","x":0.8,"y":-0.45},{"m":"SVRG","x":0.82,"y":-0.56},{"m":"SVRG","x":0.87,"y":-0.69},{"m":"SVRG","x":0.91,"y":-0.25},{"m":"SVRG","x":0.98,"y":0.09},{"m":"SVRG","x":1.02,"y":-0.3},{"m":"SVRG","x":1.05,"y":-0.56},{"m":"SVRG","x":1.1,"y":-0.85},{"m":"SVRG","x":1.13,"y":-1.0},{"m":"SVRG","x":1.2,"y":-1.12},{"m":"SVRG","x":1.26,"y":-1.0},{"m":"SVRG","x":1.31,"y":-0.96},{"m":"SVRG","x":1.38,"y":-1.05},{"m":"SVRG","x":1.44,"y":-1.04},{"m":"SVRG","x":1.52,"y":-0.95},{"m":"SVRG","x":1.6,"y":-0.96},{"m":"SVRG","x":1.68,"y":-1.0},{"m":"SVRG","x":1.75,"y":-0.97},{"m":"SVRG","x":1.82,"y":-0.92},{"m":"SVRG","x":1.9,"y":-0.94},{"m":"SVRG","x":1.98,"y":-0.9},{"m":"SVRG","x":2.05,"y":-0.97},{"m":"SVRG","x":2.2,"y":-0.95},{"m":"SVRG","x":2.5,"y":-0.94},{"m":"SVRG","x":3.0,"y":-0.94},{"m":"SVRG","x":4.0,"y":-0.94},{"m":"SVRG","x":5.0,"y":-0.94},
{"m":"SGD 1/2","x":0,"y":1.85},{"m":"SGD 1/2","x":0.04,"y":1.1},{"m":"SGD 1/2","x":0.08,"y":0.56},{"m":"SGD 1/2","x":0.12,"y":0.3},{"m":"SGD 1/2","x":0.15,"y":0.06},{"m":"SGD 1/2","x":0.18,"y":-0.4},{"m":"SGD 1/2","x":0.2,"y":-0.94},{"m":"SGD 1/2","x":0.22,"y":-0.5},{"m":"SGD 1/2","x":0.23,"y":-0.31},{"m":"SGD 1/2","x":0.28,"y":-0.56},{"m":"SGD 1/2","x":0.32,"y":-0.75},{"m":"SGD 1/2","x":0.36,"y":-0.94},{"m":"SGD 1/2","x":0.43,"y":-1.19},{"m":"SGD 1/2","x":0.47,"y":-1.1},{"m":"SGD 1/2","x":0.51,"y":-1.06},{"m":"SGD 1/2","x":0.55,"y":-1.15},{"m":"SGD 1/2","x":0.59,"y":-1.19},{"m":"SGD 1/2","x":0.63,"y":-1.1},{"m":"SGD 1/2","x":0.67,"y":-1.12},{"m":"SGD 1/2","x":0.72,"y":-1.05},{"m":"SGD 1/2","x":0.77,"y":-1.15},{"m":"SGD 1/2","x":0.82,"y":-1.19},{"m":"SGD 1/2","x":0.86,"y":-1.08},{"m":"SGD 1/2","x":0.9,"y":-1.06},{"m":"SGD 1/2","x":0.95,"y":-1.15},{"m":"SGD 1/2","x":0.98,"y":-1.12},{"m":"SGD 1/2","x":1.05,"y":-1.31},{"m":"SGD 1/2","x":1.13,"y":-1.37},{"m":"SGD 1/2","x":1.3,"y":-1.38},{"m":"SGD 1/2","x":2.0,"y":-1.38},{"m":"SGD 1/2","x":5.0,"y":-1.38}
],
"p8": [
{"m":"classical","x":0,"y":1.71},{"m":"classical","x":0.05,"y":1.45},{"m":"classical","x":0.1,"y":1.32},{"m":"classical","x":0.2,"y":1.18},{"m":"classical","x":0.3,"y":1.07},{"m":"classical","x":0.43,"y":0.98},{"m":"classical","x":0.6,"y":0.9},{"m":"classical","x":0.9,"y":0.84},{"m":"classical","x":1.36,"y":0.77},{"m":"classical","x":1.98,"y":0.71},{"m":"classical","x":2.5,"y":0.67},{"m":"classical","x":2.9,"y":0.64},{"m":"classical","x":3.5,"y":0.61},{"m":"classical","x":4.0,"y":0.6},{"m":"classical","x":4.5,"y":0.59},{"m":"classical","x":5.0,"y":0.58},
{"m":"SVRG","x":0,"y":1.71},{"m":"SVRG","x":0.05,"y":1.55},{"m":"SVRG","x":0.12,"y":1.39},{"m":"SVRG","x":0.2,"y":1.28},{"m":"SVRG","x":0.28,"y":1.18},{"m":"SVRG","x":0.4,"y":1.08},{"m":"SVRG","x":0.51,"y":0.98},{"m":"SVRG","x":0.6,"y":0.86},{"m":"SVRG","x":0.67,"y":0.77},{"m":"SVRG","x":0.72,"y":0.81},{"m":"SVRG","x":0.76,"y":0.76},{"m":"SVRG","x":0.82,"y":0.71},{"m":"SVRG","x":0.86,"y":0.74},{"m":"SVRG","x":0.9,"y":0.72},{"m":"SVRG","x":0.98,"y":0.67},{"m":"SVRG","x":1.05,"y":0.53},{"m":"SVRG","x":1.13,"y":0.33},{"m":"SVRG","x":1.2,"y":0.25},{"m":"SVRG","x":1.28,"y":0.21},{"m":"SVRG","x":1.36,"y":0.16},{"m":"SVRG","x":1.44,"y":0.12},{"m":"SVRG","x":1.52,"y":0.16},{"m":"SVRG","x":1.6,"y":0.1},{"m":"SVRG","x":1.67,"y":0.05},{"m":"SVRG","x":1.75,"y":0.02},{"m":"SVRG","x":1.86,"y":0.09},{"m":"SVRG","x":1.95,"y":0.16},{"m":"SVRG","x":2.0,"y":0.13},{"m":"SVRG","x":2.06,"y":0.09},{"m":"SVRG","x":2.13,"y":0.03},{"m":"SVRG","x":2.21,"y":-0.01},{"m":"SVRG","x":2.3,"y":-0.03},{"m":"SVRG","x":2.45,"y":-0.05},{"m":"SVRG","x":2.7,"y":-0.04},{"m":"SVRG","x":2.9,"y":-0.03},{"m":"SVRG","x":3.5,"y":-0.01},{"m":"SVRG","x":4.0,"y":0.02},{"m":"SVRG","x":4.5,"y":0.05},{"m":"SVRG","x":5.0,"y":0.07},
{"m":"SGD 1/2","x":0,"y":1.71},{"m":"SGD 1/2","x":0.05,"y":1.45},{"m":"SGD 1/2","x":0.12,"y":1.22},{"m":"SGD 1/2","x":0.2,"y":0.98},{"m":"SGD 1/2","x":0.25,"y":0.84},{"m":"SGD 1/2","x":0.3,"y":0.76},{"m":"SGD 1/2","x":0.36,"y":0.71},{"m":"SGD 1/2","x":0.46,"y":0.57},{"m":"SGD 1/2","x":0.51,"y":0.6},{"m":"SGD 1/2","x":0.56,"y":0.64},{"m":"SGD 1/2","x":0.62,"y":0.69},{"m":"SGD 1/2","x":0.67,"y":0.74},{"m":"SGD 1/2","x":0.72,"y":0.7},{"m":"SGD 1/2","x":0.76,"y":0.66},{"m":"SGD 1/2","x":0.82,"y":0.75},{"m":"SGD 1/2","x":0.88,"y":0.7},{"m":"SGD 1/2","x":0.93,"y":0.68},{"m":"SGD 1/2","x":0.98,"y":0.64},{"m":"SGD 1/2","x":1.05,"y":0.56},{"m":"SGD 1/2","x":1.13,"y":0.5},{"m":"SGD 1/2","x":1.2,"y":0.44},{"m":"SGD 1/2","x":1.28,"y":0.4},{"m":"SGD 1/2","x":1.36,"y":0.42},{"m":"SGD 1/2","x":1.44,"y":0.45},{"m":"SGD 1/2","x":1.52,"y":0.46},{"m":"SGD 1/2","x":1.6,"y":0.45},{"m":"SGD 1/2","x":1.7,"y":0.42},{"m":"SGD 1/2","x":1.83,"y":0.4},{"m":"SGD 1/2","x":2.0,"y":0.37},{"m":"SGD 1/2","x":2.3,"y":0.33},{"m":"SGD 1/2","x":2.6,"y":0.3},{"m":"SGD 1/2","x":2.9,"y":0.29},{"m":"SGD 1/2","x":3.5,"y":0.27},{"m":"SGD 1/2","x":4.0,"y":0.27},{"m":"SGD 1/2","x":4.5,"y":0.26},{"m":"SGD 1/2","x":5.0,"y":0.26}
]
},
"vconcat": [
{"spacing": 22, "resolve": {"scale": {"color": "independent"}, "legend": {"color": "independent"}},
 "hconcat": [
 {"spacing": 16, "resolve": {"scale": {"color": "independent"}, "legend": {"color": "independent"}},
  "hconcat": [
  {"title":"low SNR, low dimen","width":113,"height":91,"data":{"name":"p1"},"mark":{"type":"line","strokeWidth":1},
   "encoding":{"x":{"field":"x","type":"quantitative","scale":{"domain":[-0.2,5.2],"nice":false,"zero":false},"axis":{"title":"npass","values":[0,1,2,3,4,5],"format":"d"}},
   "y":{"field":"y","type":"quantitative","scale":{"domain":[-3.85,1.9],"nice":false,"zero":false},"axis":{"title":"log mse","values":[-3,-2,-1,0,1],"format":"d","labelExpr":"replace(datum.label,'−','-')"}},
   "color":{"field":"m","type":"nominal","scale":{"domain":["classical","SVRG","SGD 1/2"],"range":["#000000","#00ee00","#0000ff"]},"legend":{"title":null}}}},
  {"title":"low SNR, high dimen","width":113,"height":91,"data":{"name":"p2"},"mark":{"type":"line","strokeWidth":1},
   "encoding":{"x":{"field":"x","type":"quantitative","scale":{"domain":[-0.2,5.2],"nice":false,"zero":false},"axis":{"title":"npass","values":[0,1,2,3,4,5],"format":"d"}},
   "y":{"field":"y","type":"quantitative","scale":{"domain":[-1.83,1.78],"nice":false,"zero":false},"axis":{"title":"log mse","values":[-1.5,-1,-0.5,0,0.5,1,1.5],"format":".1f","labelExpr":"abs(datum.value)==0.5 || abs(datum.value)==1.5 ? replace(datum.label,'−','-') : ''"}},
   "color":{"field":"m","type":"nominal","scale":{"domain":["classical","SVRG","SGD 1/2"],"range":["#000000","#00ee00","#0000ff"]},"legend":{"title":null}}}}
  ]},
 {"spacing": 20, "resolve": {"scale": {"color": "independent"}, "legend": {"color": "independent"}},
  "hconcat": [
  {"title":"low SNR, low dimen","width":113,"height":91,"data":{"name":"p3"},"mark":{"type":"line","strokeWidth":1},
   "encoding":{"x":{"field":"x","type":"quantitative","scale":{"domain":[-0.2,5.2],"nice":false,"zero":false},"axis":{"title":"npass","values":[0,1,2,3,4,5],"format":"d"}},
   "y":{"field":"y","type":"quantitative","scale":{"domain":[-1.78,1.69],"nice":false,"zero":false},"axis":{"title":"log mse","values":[-1.5,-1,-0.5,0,0.5,1,1.5],"format":".1f","labelExpr":"abs(datum.value)==0.5 || abs(datum.value)==1.5 ? replace(datum.label,'−','-') : ''"}},
   "color":{"field":"m","type":"nominal","scale":{"domain":["classical","SVRG","SGD 1/2"],"range":["#000000","#00ee00","#0000ff"]},"legend":{"title":null}}}},
  {"title":"low SNR, high dimen","width":113,"height":91,"data":{"name":"p4"},"mark":{"type":"line","strokeWidth":1},
   "encoding":{"x":{"field":"x","type":"quantitative","scale":{"domain":[-0.2,5.2],"nice":false,"zero":false},"axis":{"title":"npass","values":[0,1,2,3,4,5],"format":"d"}},
   "y":{"field":"y","type":"quantitative","scale":{"domain":[0.18,1.73],"nice":false,"zero":false},"axis":{"title":"log mse","values":[0.5,1,1.5],"format":".1f"}},
   "color":{"field":"m","type":"nominal","scale":{"domain":["classical","SVRG","SGD 1/2"],"range":["#000000","#00ee00","#0000ff"]},"legend":{"title":null}}}}
  ]}
 ]},
{"spacing": 22, "resolve": {"scale": {"color": "independent"}, "legend": {"color": "independent"}},
 "hconcat": [
 {"spacing": 16, "resolve": {"scale": {"color": "independent"}, "legend": {"color": "independent"}},
  "hconcat": [
  {"title":"high SNR, low dimen","width":113,"height":91,"data":{"name":"p5"},"mark":{"type":"line","strokeWidth":1},
   "encoding":{"x":{"field":"x","type":"quantitative","scale":{"domain":[-0.2,5.2],"nice":false,"zero":false},"axis":{"title":"npass","values":[0,1,2,3,4,5],"format":"d"}},
   "y":{"field":"y","type":"quantitative","scale":{"domain":[-4.54,1.95],"nice":false,"zero":false},"axis":{"title":"log mse","values":[-4,-3,-2,-1,0,1],"format":"d","labelExpr":"replace(datum.label,'−','-')"}},
   "color":{"field":"m","type":"nominal","scale":{"domain":["classical","SVRG","SGD 1/2"],"range":["#000000","#00ee00","#0000ff"]},"legend":{"title":null}}}},
  {"title":"high SNR, high dimen","width":113,"height":91,"data":{"name":"p6"},"mark":{"type":"line","strokeWidth":1},
   "encoding":{"x":{"field":"x","type":"quantitative","scale":{"domain":[-0.2,5.2],"nice":false,"zero":false},"axis":{"title":"npass","values":[0,1,2,3,4,5],"format":"d"}},
   "y":{"field":"y","type":"quantitative","scale":{"domain":[-1.78,1.78],"nice":false,"zero":false},"axis":{"title":"log mse","values":[-1.5,-1,-0.5,0,0.5,1,1.5],"format":".1f","labelExpr":"abs(datum.value)==0.5 || abs(datum.value)==1.5 ? replace(datum.label,'−','-') : ''"}},
   "color":{"field":"m","type":"nominal","scale":{"domain":["classical","SVRG","SGD 1/2"],"range":["#000000","#00ee00","#0000ff"]},"legend":{"title":null}}}}
  ]},
 {"spacing": 20, "resolve": {"scale": {"color": "independent"}, "legend": {"color": "independent"}},
  "hconcat": [
  {"title":"high SNR, low dimen","width":113,"height":91,"data":{"name":"p7"},"mark":{"type":"line","strokeWidth":1},
   "encoding":{"x":{"field":"x","type":"quantitative","scale":{"domain":[-0.2,5.2],"nice":false,"zero":false},"axis":{"title":"npass","values":[0,1,2,3,4,5],"format":"d"}},
   "y":{"field":"y","type":"quantitative","scale":{"domain":[-1.53,1.98],"nice":false,"zero":false},"axis":{"title":"log mse","values":[-1,-0.5,0,0.5,1,1.5],"format":".1f","labelExpr":"datum.value==-0.5 ? '' : replace(datum.label,'−','-')"}},
   "color":{"field":"m","type":"nominal","scale":{"domain":["classical","SVRG","SGD 1/2"],"range":["#000000","#00ee00","#0000ff"]},"legend":{"title":null}}}},
  {"title":"high SNR, high dimen","width":113,"height":91,"data":{"name":"p8"},"mark":{"type":"line","strokeWidth":1},
   "encoding":{"x":{"field":"x","type":"quantitative","scale":{"domain":[-0.2,5.2],"nice":false,"zero":false},"axis":{"title":"npass","values":[0,1,2,3,4,5],"format":"d"}},
   "y":{"field":"y","type":"quantitative","scale":{"domain":[-0.12,1.79],"nice":false,"zero":false},"axis":{"title":"log mse","values":[0,0.5,1,1.5],"format":".1f"}},
   "color":{"field":"m","type":"nominal","scale":{"domain":["classical","SVRG","SGD 1/2"],"range":["#000000","#00ee00","#0000ff"]},"legend":{"title":null}}}}
  ]}
 ]}
]
}
